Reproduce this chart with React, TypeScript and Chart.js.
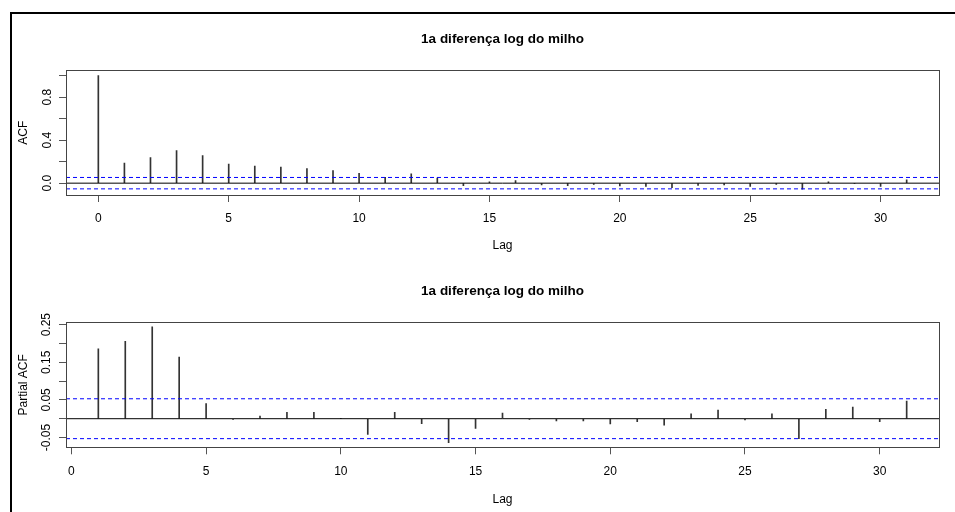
import React, { useEffect, useRef } from 'react';
import { Chart, registerables } from 'chart.js';

Chart.register(...registerables);

const TITLE = '1a diferença log do milho';
const FONT = '"Liberation Sans", Arial, Helvetica, sans-serif';

// ACF (top panel)
const acfLags = [0, 1, 2, 3, 4, 5, 6, 7, 8, 9, 10, 11, 12, 13, 14, 15, 16, 17, 18, 19, 20, 21, 22, 23, 24, 25, 26, 27, 28, 29, 30, 31];
const acfValues = [1.0, 0.187, 0.237, 0.302, 0.257, 0.177, 0.159, 0.150, 0.135, 0.117, 0.092, 0.055, 0.086, 0.047, -0.023, 0.012, 0.024, -0.016, -0.024, -0.012, -0.025, -0.030, -0.041, -0.020, -0.016, -0.030, -0.012, -0.055, 0.012, -0.004, -0.030, 0.030];
const acfYTicks = [0, 0.2, 0.4, 0.6, 0.8, 1.0];
const acfYTickLabels = ['0.0', '', '0.4', '', '0.8', ''];
const acfYRange = [-0.11, 1.048];

// PACF (bottom panel)
const pacfLags = [1, 2, 3, 4, 5, 6, 7, 8, 9, 10, 11, 12, 13, 14, 15, 16, 17, 18, 19, 20, 21, 22, 23, 24, 25, 26, 27, 28, 29, 30, 31];
const pacfValues = [0.186, 0.206, 0.244, 0.164, 0.040, -0.002, 0.007, 0.017, 0.017, 0.001, -0.042, 0.017, -0.013, -0.064, -0.026, 0.015, -0.002, -0.006, -0.006, -0.014, -0.008, -0.017, 0.013, 0.023, -0.003, 0.013, -0.053, 0.025, 0.031, -0.008, 0.047];
const pacfYTicks = [-0.05, 0, 0.05, 0.1, 0.15, 0.2, 0.25];
const pacfYTickLabels = ['-0.05', '', '0.05', '', '0.15', '', '0.25'];
const pacfYRange = [-0.076, 0.256];

// shared
const xTicks = [0, 5, 10, 15, 20, 25, 30];
const xTickLabels = ['0', '5', '10', '15', '20', '25', '30'];
const ciLimit = 0.053;

const boxPlugin = {
  id: 'rbox',
  afterDraw(chart: any) {
    const { ctx, chartArea } = chart;
    const l = Math.round(chartArea.left) + 0.5;
    const t = Math.round(chartArea.top) + 0.5;
    const r = Math.round(chartArea.right) + 0.5;
    const b = Math.round(chartArea.bottom) + 0.5;
    ctx.save();
    ctx.strokeStyle = '#444';
    ctx.lineWidth = 1;
    ctx.strokeRect(l, t, r - l, b - t);
    ctx.restore();
  },
};

type PanelProps = {
  lags: number[];
  values: number[];
  yTicks: number[];
  yTickLabels: string[];
  yRange: number[];
  yTitle: string;
  lay: {
    titleTop: number;
    titleBottom: number;
    xHeight: number;
    padBottom: number;
    yTitlePad: number;
    yTickPad: number;
    xTickPad: number;
  };
  top: number;
};

function Panel({ lags, values, yTicks, yTickLabels, yRange, yTitle, lay, top }: PanelProps) {
  const ref = useRef<HTMLCanvasElement | null>(null);
  useEffect(() => {
    if (!ref.current) return;
    const lo = Math.min(...lags);
    const hi = Math.max(...lags);
    const ext = (hi - lo) * 0.04;
    const xMin = lo - ext;
    const xMax = hi + ext;
    const hline = (y: number) => [
      { x: xMin, y },
      { x: xMax, y },
    ];
    const gridOpts = {
      drawOnChartArea: false,
      drawTicks: true,
      tickLength: 7,
      color: '#555',
      offset: false,
    };
    const chart = new Chart(ref.current, {
      type: 'bar',
      data: {
        datasets: [
          {
            type: 'bar',
            data: lags.map((l, i) => ({ x: l, y: values[i] })),
            backgroundColor: '#333',
            barThickness: 1,
            order: 2,
          } as any,
          {
            type: 'line',
            data: hline(0),
            borderColor: '#000',
            borderWidth: 1,
            pointRadius: 0,
            order: 1,
          } as any,
          {
            type: 'line',
            data: hline(ciLimit),
            borderColor: '#0000ff',
            borderWidth: 1,
            borderDash: [4, 3],
            pointRadius: 0,
            order: 1,
          } as any,
          {
            type: 'line',
            data: hline(-ciLimit),
            borderColor: '#0000ff',
            borderWidth: 1,
            borderDash: [4, 3],
            pointRadius: 0,
            order: 1,
          } as any,
        ],
      },
      options: {
        animation: false,
        responsive: false,
        devicePixelRatio: 1,
        layout: { padding: { left: 0, right: 16, top: 0, bottom: lay.padBottom } },
        plugins: {
          legend: { display: false },
          tooltip: { enabled: false },
          title: {
            display: true,
            fullSize: false,
            text: TITLE,
            color: '#000',
            font: { family: FONT, size: 13.5, weight: 'bold' },
            padding: { top: lay.titleTop, bottom: lay.titleBottom },
          },
        },
        scales: {
          x: {
            type: 'linear',
            min: xMin,
            max: xMax,
            offset: false,
            afterBuildTicks: (s: any) => {
              s.ticks = xTicks.map((v) => ({ value: v }));
            },
            afterFit: (s: any) => {
              s.height = lay.xHeight;
            },
            grid: gridOpts,
            border: { display: false },
            ticks: {
              autoSkip: false,
              maxRotation: 0,
              minRotation: 0,
              padding: lay.xTickPad,
              color: '#000',
              font: { family: FONT, size: 12 },
              callback: (_v: any, i: number) => xTickLabels[i],
            },
            title: {
              display: true,
              text: 'Lag',
              color: '#000',
              font: { family: FONT, size: 12 },
              padding: 0,
            },
          },
          y: {
            type: 'linear',
            min: yRange[0],
            max: yRange[1],
            afterBuildTicks: (s: any) => {
              s.ticks = yTicks.map((v) => ({ value: v }));
            },
            afterFit: (s: any) => {
              s.width = 66;
            },
            grid: gridOpts,
            border: { display: false },
            ticks: {
              autoSkip: false,
              minRotation: 90,
              maxRotation: 90,
              crossAlign: 'center',
              padding: lay.yTickPad,
              color: '#000',
              font: { family: FONT, size: 12 },
              callback: (_v: any, i: number) => yTickLabels[i],
            },
            title: {
              display: true,
              text: yTitle,
              color: '#000',
              font: { family: FONT, size: 12 },
              padding: { top: lay.yTitlePad, bottom: 0 },
            },
          },
        },
      } as any,
      plugins: [boxPlugin],
    });
    return () => chart.destroy();
  }, []);
  return (
    <canvas
      ref={ref}
      width={955}
      height={256}
      style={{ position: 'absolute', left: 0, top, width: 955, height: 256, display: 'block' }}
    />
  );
}

export default function App() {
  return (
    <div style={{ position: 'absolute', left: 0, top: 0, width: 955, height: 512, background: '#fff', overflow: 'hidden' }}>
      <Panel
        lags={acfLags}
        values={acfValues}
        yTicks={acfYTicks}
        yTickLabels={acfYTickLabels}
        yRange={acfYRange}
        yTitle="ACF"
        top={0}
        lay={{ titleTop: 31, titleBottom: 23.2, xHeight: 58.2, padBottom: 2.8, yTitlePad: 16, yTickPad: 3, xTickPad: 9 }}
      />
      <Panel
        lags={pacfLags}
        values={pacfValues}
        yTicks={pacfYTicks}
        yTickLabels={pacfYTickLabels}
        yRange={pacfYRange}
        yTitle="Partial ACF"
        top={256}
        lay={{ titleTop: 27, titleBottom: 23.2, xHeight: 59.9, padBottom: 4.8, yTitlePad: 16, yTickPad: -1.7, xTickPad: 10 }}
      />
      <div
        style={{
          position: 'absolute',
          left: 10,
          top: 12,
          width: 955,
          height: 512,
          borderLeft: '2px solid #000',
          borderTop: '2px solid #000',
          pointerEvents: 'none',
        }}
      />
    </div>
  );
}
